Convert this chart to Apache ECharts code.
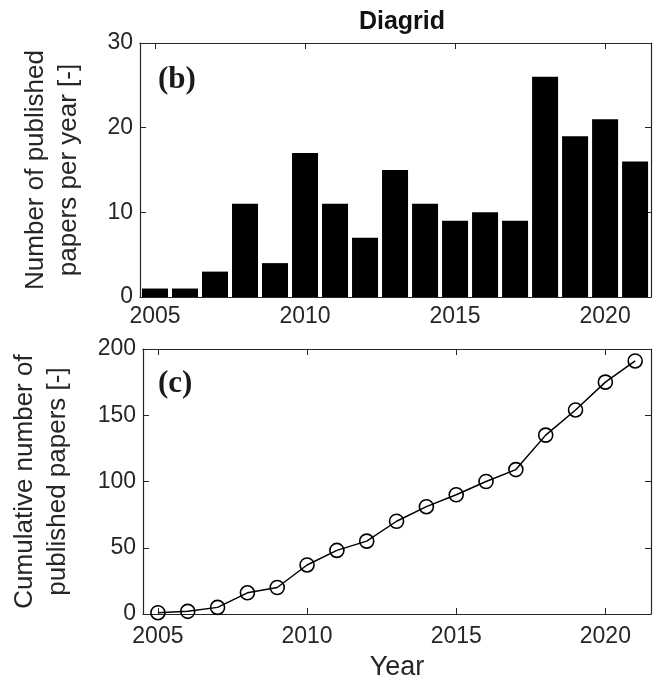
<!DOCTYPE html>
<html>
<head>
<meta charset="utf-8">
<script src="https://cdn.jsdelivr.net/npm/echarts@6/dist/echarts.min.js"></script>
<style>html,body{margin:0;padding:0;background:#fff}#c{width:655px;height:682px}</style>
</head>
<body>
<div id="c"></div>
<script>
const years = [2005,2006,2007,2008,2009,2010,2011,2012,2013,2014,2015,2016,2017,2018,2019,2020,2021];
const perYear = [1,1,3,11,4,17,11,7,15,11,9,10,9,26,19,21,16];
const cumulative = [1,2,5,16,20,37,48,55,70,81,90,100,109,135,154,175,191];
const xTicks = [2005,2010,2015,2020];

const txt = '#262626';
const font = 'Liberation Sans, Arial, sans-serif';
const chart = echarts.init(document.getElementById('c'));

function xAx(gi, showLabel, pos, name, margin) {
  return {
    type: 'value', gridIndex: gi, position: pos, min: 2004.5, max: 2021.53,
    axisLine: {show: true, onZero: false, lineStyle: {color: txt, width: 1.2}},
    axisTick: {show: true, inside: true, length: 6, customValues: xTicks, lineStyle: {color: txt}},
    axisLabel: {show: showLabel, customValues: xTicks, color: txt, fontSize: 23, fontFamily: font, margin: margin || 8,
      formatter: v => String(v)},
    splitLine: {show: false},
    name: name || '', nameLocation: 'middle', nameGap: 40,
    nameTextStyle: {color: txt, fontSize: 27, fontFamily: font}
  };
}
function yAx(gi, showLabel, pos, max, interval, name, gap) {
  return {
    type: 'value', gridIndex: gi, position: pos, min: 0, max: max, interval: interval,
    axisLine: {show: true, lineStyle: {color: txt, width: 1.2}},
    axisTick: {show: true, inside: true, length: 6, lineStyle: {color: txt}},
    axisLabel: {show: showLabel, color: txt, fontSize: 23, fontFamily: font, margin: 7},
    splitLine: {show: false},
    name: name || '', nameLocation: 'middle', nameGap: gap || 0,
    nameTextStyle: {color: txt, fontSize: 26, fontFamily: font, lineHeight: 33}
  };
}

chart.setOption({
  animation: false,
  title: {text: 'Diagrid', left: 397, top: 5, textAlign: 'center',
    textStyle: {fontSize: 25, fontWeight: 'bold', color: '#111', fontFamily: font}},
  grid: [
    {left: 140, right: 4, top: 43, height: 254},
    {left: 140, right: 4, top: 349, bottom: 67}
  ],
  xAxis: [
    xAx(0, true, 'bottom'), xAx(0, false, 'top'),
    xAx(1, true, 'bottom', 'Year', 11), xAx(1, false, 'top')
  ],
  yAxis: [
    yAx(0, true, 'left', 30, 10, 'Number of published\npapers per year [-]', 55),
    yAx(0, false, 'right', 30, 10),
    yAx(1, true, 'left', 200, 50, 'Cumulative number of\npublished papers [-]', 69),
    yAx(1, false, 'right', 200, 50)
  ],
  graphic: [
    {type: 'text', left: 158, top: 64, style: {text: '(b)', fontSize: 31, fontWeight: 'bold', fontFamily: 'Liberation Serif, Times New Roman, serif', fill: '#1a1a1a'}},
    {type: 'text', left: 158, top: 368, style: {text: '(c)', fontSize: 31, fontWeight: 'bold', fontFamily: 'Liberation Serif, Times New Roman, serif', fill: '#1a1a1a'}}
  ],
  series: [
    {type: 'bar', xAxisIndex: 0, yAxisIndex: 0, barWidth: 26,
     itemStyle: {color: '#000'},
     data: years.map((y, i) => [y, perYear[i]])},
    {type: 'line', xAxisIndex: 2, yAxisIndex: 2, symbol: 'circle', symbolSize: 14,
     lineStyle: {color: '#000', width: 1.5},
     itemStyle: {color: 'rgba(255,255,255,0)', borderColor: '#000', borderWidth: 1.6},
     data: years.map((y, i) => [y, cumulative[i]])}
  ]
});
</script>
</body>
</html>
